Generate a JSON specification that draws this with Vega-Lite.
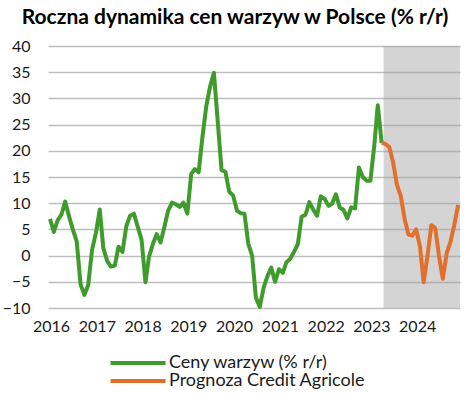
{
  "$schema": "https://vega.github.io/schema/vega-lite/v6.json",
  "width": 412,
  "height": 262,
  "autosize": {"type": "none"},
  "padding": {"left": 48, "top": 46, "right": 11, "bottom": 85},
  "background": "white",
  "config": {
    "font": "Lato",
    "view": {"stroke": null},
    "axis": {"labelFont": "Lato", "labelFontSize": 16, "labelColor": "#1a1a1a"},
    "legend": {"labelFont": "Lato", "labelFontSize": 18, "labelColor": "#1a1a1a", "labelLimit": 0}
  },
  "title": {
    "text": "Roczna dynamika cen warzyw w Polsce (% r/r)",
    "font": "Lato",
    "fontSize": 21,
    "fontWeight": "bold",
    "color": "#000000",
    "anchor": "middle",
    "dx": -19,
    "offset": 10
  },
  "datasets": {
    "shade": [{"from": "2023-04-16", "to": "2024-12-16"}],
    "series": [
      {"date": "2016-01-01", "value": 7.0, "series": "Ceny warzyw (% r/r)"},
      {"date": "2016-02-01", "value": 4.5, "series": "Ceny warzyw (% r/r)"},
      {"date": "2016-03-01", "value": 6.7, "series": "Ceny warzyw (% r/r)"},
      {"date": "2016-04-01", "value": 7.8, "series": "Ceny warzyw (% r/r)"},
      {"date": "2016-05-01", "value": 10.3, "series": "Ceny warzyw (% r/r)"},
      {"date": "2016-06-01", "value": 7.5, "series": "Ceny warzyw (% r/r)"},
      {"date": "2016-07-01", "value": 5.0, "series": "Ceny warzyw (% r/r)"},
      {"date": "2016-08-01", "value": 2.7, "series": "Ceny warzyw (% r/r)"},
      {"date": "2016-09-01", "value": -5.5, "series": "Ceny warzyw (% r/r)"},
      {"date": "2016-10-01", "value": -7.5, "series": "Ceny warzyw (% r/r)"},
      {"date": "2016-11-01", "value": -5.6, "series": "Ceny warzyw (% r/r)"},
      {"date": "2016-12-01", "value": 1.0, "series": "Ceny warzyw (% r/r)"},
      {"date": "2017-01-01", "value": 4.3, "series": "Ceny warzyw (% r/r)"},
      {"date": "2017-02-01", "value": 8.8, "series": "Ceny warzyw (% r/r)"},
      {"date": "2017-03-01", "value": 1.5, "series": "Ceny warzyw (% r/r)"},
      {"date": "2017-04-01", "value": -1.0, "series": "Ceny warzyw (% r/r)"},
      {"date": "2017-05-01", "value": -2.1, "series": "Ceny warzyw (% r/r)"},
      {"date": "2017-06-01", "value": -1.9, "series": "Ceny warzyw (% r/r)"},
      {"date": "2017-07-01", "value": 1.7, "series": "Ceny warzyw (% r/r)"},
      {"date": "2017-08-01", "value": 0.7, "series": "Ceny warzyw (% r/r)"},
      {"date": "2017-09-01", "value": 5.6, "series": "Ceny warzyw (% r/r)"},
      {"date": "2017-10-01", "value": 7.6, "series": "Ceny warzyw (% r/r)"},
      {"date": "2017-11-01", "value": 8.0, "series": "Ceny warzyw (% r/r)"},
      {"date": "2017-12-01", "value": 5.5, "series": "Ceny warzyw (% r/r)"},
      {"date": "2018-01-01", "value": 3.0, "series": "Ceny warzyw (% r/r)"},
      {"date": "2018-02-01", "value": -5.1, "series": "Ceny warzyw (% r/r)"},
      {"date": "2018-03-01", "value": -0.2, "series": "Ceny warzyw (% r/r)"},
      {"date": "2018-04-01", "value": 2.2, "series": "Ceny warzyw (% r/r)"},
      {"date": "2018-05-01", "value": 4.1, "series": "Ceny warzyw (% r/r)"},
      {"date": "2018-06-01", "value": 2.5, "series": "Ceny warzyw (% r/r)"},
      {"date": "2018-07-01", "value": 5.4, "series": "Ceny warzyw (% r/r)"},
      {"date": "2018-08-01", "value": 8.6, "series": "Ceny warzyw (% r/r)"},
      {"date": "2018-09-01", "value": 10.1, "series": "Ceny warzyw (% r/r)"},
      {"date": "2018-10-01", "value": 9.8, "series": "Ceny warzyw (% r/r)"},
      {"date": "2018-11-01", "value": 9.3, "series": "Ceny warzyw (% r/r)"},
      {"date": "2018-12-01", "value": 10.1, "series": "Ceny warzyw (% r/r)"},
      {"date": "2019-01-01", "value": 8.0, "series": "Ceny warzyw (% r/r)"},
      {"date": "2019-02-01", "value": 15.6, "series": "Ceny warzyw (% r/r)"},
      {"date": "2019-03-01", "value": 16.5, "series": "Ceny warzyw (% r/r)"},
      {"date": "2019-04-01", "value": 15.9, "series": "Ceny warzyw (% r/r)"},
      {"date": "2019-05-01", "value": 22.5, "series": "Ceny warzyw (% r/r)"},
      {"date": "2019-06-01", "value": 28.5, "series": "Ceny warzyw (% r/r)"},
      {"date": "2019-07-01", "value": 32.2, "series": "Ceny warzyw (% r/r)"},
      {"date": "2019-08-01", "value": 34.9, "series": "Ceny warzyw (% r/r)"},
      {"date": "2019-09-01", "value": 25.5, "series": "Ceny warzyw (% r/r)"},
      {"date": "2019-10-01", "value": 16.3, "series": "Ceny warzyw (% r/r)"},
      {"date": "2019-11-01", "value": 16.0, "series": "Ceny warzyw (% r/r)"},
      {"date": "2019-12-01", "value": 12.2, "series": "Ceny warzyw (% r/r)"},
      {"date": "2020-01-01", "value": 11.5, "series": "Ceny warzyw (% r/r)"},
      {"date": "2020-02-01", "value": 8.6, "series": "Ceny warzyw (% r/r)"},
      {"date": "2020-03-01", "value": 8.1, "series": "Ceny warzyw (% r/r)"},
      {"date": "2020-04-01", "value": 8.0, "series": "Ceny warzyw (% r/r)"},
      {"date": "2020-05-01", "value": 2.3, "series": "Ceny warzyw (% r/r)"},
      {"date": "2020-06-01", "value": 0.0, "series": "Ceny warzyw (% r/r)"},
      {"date": "2020-07-01", "value": -8.0, "series": "Ceny warzyw (% r/r)"},
      {"date": "2020-08-01", "value": -9.8, "series": "Ceny warzyw (% r/r)"},
      {"date": "2020-09-01", "value": -6.1, "series": "Ceny warzyw (% r/r)"},
      {"date": "2020-10-01", "value": -3.9, "series": "Ceny warzyw (% r/r)"},
      {"date": "2020-11-01", "value": -2.3, "series": "Ceny warzyw (% r/r)"},
      {"date": "2020-12-01", "value": -5.0, "series": "Ceny warzyw (% r/r)"},
      {"date": "2021-01-01", "value": -2.6, "series": "Ceny warzyw (% r/r)"},
      {"date": "2021-02-01", "value": -3.3, "series": "Ceny warzyw (% r/r)"},
      {"date": "2021-03-01", "value": -1.3, "series": "Ceny warzyw (% r/r)"},
      {"date": "2021-04-01", "value": -0.6, "series": "Ceny warzyw (% r/r)"},
      {"date": "2021-05-01", "value": 0.7, "series": "Ceny warzyw (% r/r)"},
      {"date": "2021-06-01", "value": 2.2, "series": "Ceny warzyw (% r/r)"},
      {"date": "2021-07-01", "value": 7.4, "series": "Ceny warzyw (% r/r)"},
      {"date": "2021-08-01", "value": 7.8, "series": "Ceny warzyw (% r/r)"},
      {"date": "2021-09-01", "value": 10.2, "series": "Ceny warzyw (% r/r)"},
      {"date": "2021-10-01", "value": 8.8, "series": "Ceny warzyw (% r/r)"},
      {"date": "2021-11-01", "value": 7.6, "series": "Ceny warzyw (% r/r)"},
      {"date": "2021-12-01", "value": 11.3, "series": "Ceny warzyw (% r/r)"},
      {"date": "2022-01-01", "value": 10.8, "series": "Ceny warzyw (% r/r)"},
      {"date": "2022-02-01", "value": 9.5, "series": "Ceny warzyw (% r/r)"},
      {"date": "2022-03-01", "value": 9.9, "series": "Ceny warzyw (% r/r)"},
      {"date": "2022-04-01", "value": 11.7, "series": "Ceny warzyw (% r/r)"},
      {"date": "2022-05-01", "value": 9.2, "series": "Ceny warzyw (% r/r)"},
      {"date": "2022-06-01", "value": 8.7, "series": "Ceny warzyw (% r/r)"},
      {"date": "2022-07-01", "value": 7.1, "series": "Ceny warzyw (% r/r)"},
      {"date": "2022-08-01", "value": 9.2, "series": "Ceny warzyw (% r/r)"},
      {"date": "2022-09-01", "value": 9.0, "series": "Ceny warzyw (% r/r)"},
      {"date": "2022-10-01", "value": 16.8, "series": "Ceny warzyw (% r/r)"},
      {"date": "2022-11-01", "value": 15.0, "series": "Ceny warzyw (% r/r)"},
      {"date": "2022-12-01", "value": 14.3, "series": "Ceny warzyw (% r/r)"},
      {"date": "2023-01-01", "value": 14.3, "series": "Ceny warzyw (% r/r)"},
      {"date": "2023-02-01", "value": 21.0, "series": "Ceny warzyw (% r/r)"},
      {"date": "2023-03-01", "value": 28.7, "series": "Ceny warzyw (% r/r)"},
      {"date": "2023-04-01", "value": 21.5, "series": "Ceny warzyw (% r/r)"},
      {"date": "2023-04-01", "value": 21.5, "series": "Prognoza Credit Agricole"},
      {"date": "2023-05-01", "value": 21.3, "series": "Prognoza Credit Agricole"},
      {"date": "2023-06-01", "value": 20.7, "series": "Prognoza Credit Agricole"},
      {"date": "2023-07-01", "value": 17.8, "series": "Prognoza Credit Agricole"},
      {"date": "2023-08-01", "value": 13.5, "series": "Prognoza Credit Agricole"},
      {"date": "2023-09-01", "value": 11.3, "series": "Prognoza Credit Agricole"},
      {"date": "2023-10-01", "value": 7.0, "series": "Prognoza Credit Agricole"},
      {"date": "2023-11-01", "value": 4.0, "series": "Prognoza Credit Agricole"},
      {"date": "2023-12-01", "value": 3.8, "series": "Prognoza Credit Agricole"},
      {"date": "2024-01-01", "value": 5.0, "series": "Prognoza Credit Agricole"},
      {"date": "2024-02-01", "value": 1.7, "series": "Prognoza Credit Agricole"},
      {"date": "2024-03-01", "value": -5.1, "series": "Prognoza Credit Agricole"},
      {"date": "2024-04-01", "value": 0.0, "series": "Prognoza Credit Agricole"},
      {"date": "2024-05-01", "value": 5.8, "series": "Prognoza Credit Agricole"},
      {"date": "2024-06-01", "value": 5.3, "series": "Prognoza Credit Agricole"},
      {"date": "2024-07-01", "value": 0.0, "series": "Prognoza Credit Agricole"},
      {"date": "2024-08-01", "value": -4.4, "series": "Prognoza Credit Agricole"},
      {"date": "2024-09-01", "value": 0.5, "series": "Prognoza Credit Agricole"},
      {"date": "2024-10-01", "value": 2.6, "series": "Prognoza Credit Agricole"},
      {"date": "2024-11-01", "value": 5.9, "series": "Prognoza Credit Agricole"},
      {"date": "2024-12-01", "value": 9.7, "series": "Prognoza Credit Agricole"}
    ]
  },
  "layer": [
    {
      "data": {"name": "shade"},
      "mark": {"type": "rect", "color": "#a0a0a0", "opacity": 0.45},
      "encoding": {
        "x": {
          "field": "from",
          "type": "temporal",
          "scale": {"domain": ["2015-12-16", "2024-12-16"]},
          "axis": {
            "title": null,
            "format": "%Y",
            "tickCount": {"interval": "year", "step": 1},
            "grid": false,
            "ticks": false,
            "domain": false,
            "labelPadding": 10,
            "labelFlush": false,
            "labelOverlap": false,
            "labelOffset": 1
          }
        },
        "x2": {"field": "to"}
      }
    },
    {
      "data": {"name": "series"},
      "mark": {"type": "line", "strokeWidth": 4, "strokeJoin": "round", "strokeCap": "butt"},
      "encoding": {
        "x": {
          "field": "date",
          "type": "temporal",
          "scale": {"domain": ["2015-12-16", "2024-12-16"]},
          "axis": {
            "title": null,
            "format": "%Y",
            "tickCount": {"interval": "year", "step": 1},
            "grid": false,
            "ticks": false,
            "domain": false,
            "labelPadding": 10,
            "labelFlush": false,
            "labelOverlap": false,
            "labelOffset": 1
          }
        },
        "y": {
          "field": "value",
          "type": "quantitative",
          "scale": {"domain": [-10, 40], "nice": false, "zero": false},
          "axis": {
            "title": null,
            "values": [-10, -5, 0, 5, 10, 15, 20, 25, 30, 35, 40],
            "grid": true,
            "gridColor": "#bfbfbf",
            "gridWidth": 1.5,
            "ticks": false,
            "domain": false,
            "labelPadding": 18
          }
        },
        "color": {
          "field": "series",
          "type": "nominal",
          "scale": {"domain": ["Ceny warzyw (% r/r)", "Prognoza Credit Agricole"], "range": ["#3f9b2b", "#e2702d"]},
          "legend": {
            "title": null,
            "orient": "none",
            "legendX": 81,
            "legendY": 308,
            "direction": "vertical",
            "symbolType": "M-5,0H5",
            "symbolSize": 121,
            "symbolStrokeWidth": 4,
            "labelOffset": 22,
            "labelLimit": 0,
            "rowPadding": 0
          }
        }
      }
    }
  ]
}
